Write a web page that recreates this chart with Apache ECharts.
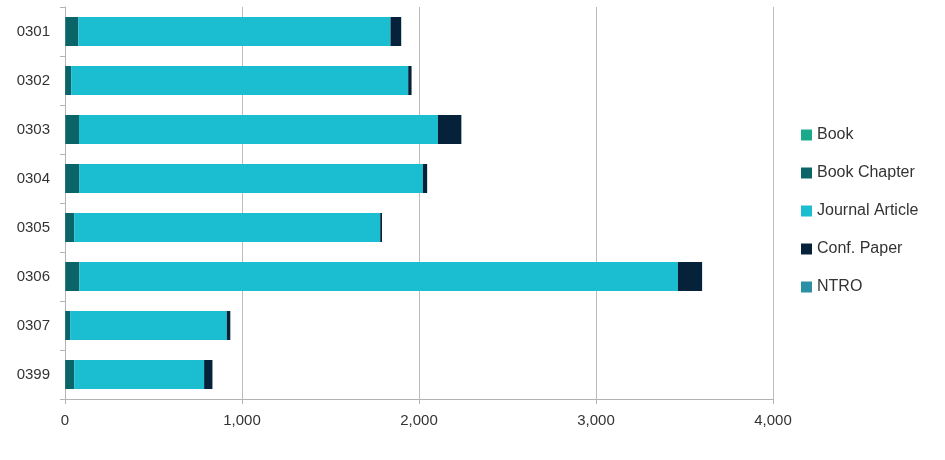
<!DOCTYPE html>
<html>
<head>
<meta charset="utf-8">
<script src="https://cdn.jsdelivr.net/npm/echarts@6/dist/echarts.min.js"></script>
<style>html,body{margin:0;padding:0;background:#fff}#c{width:945px;height:460px}</style>
</head>
<body>
<div id="c"></div>
<script>
const categories = ['0301','0302','0303','0304','0305','0306','0307','0399'];
const book        = [2, 1, 2, 1, 1, 2, 1, 1];
const bookChapter = [73, 34, 77, 79, 51, 79, 28, 51];
const journal     = [1764, 1904, 2028, 1942, 1729, 3382, 885, 734];
const confPaper   = [60, 19, 132, 24, 10, 136, 20, 47];
const ntro        = [1, 0, 1, 0, 0, 1, 0, 0];
const xTicks = [0, 1000, 2000, 3000, 4000];

const seriesDefs = [
  {name:'Book', data:book, color:'#1ba98c'},
  {name:'Book Chapter', data:bookChapter, color:'#0b6468'},
  {name:'Journal Article', data:journal, color:'#1bbdd0'},
  {name:'Conf. Paper', data:confPaper, color:'#06223a'},
  {name:'NTRO', data:ntro, color:'#2d8fa3'}
];

const chart = echarts.init(document.getElementById('c'));
chart.setOption({
  animation:false,
  textStyle:{fontFamily:'Liberation Sans, Arial, sans-serif'},
  grid:{left:65, right:172, top:7, bottom:61, containLabel:false},
  legend:{
    orient:'vertical', left:801, top:127, padding:0,
    itemWidth:11, itemHeight:11, itemGap:22, icon:'rect',
    textStyle:{fontSize:16, color:'#333', fontFamily:'Liberation Sans, Arial, sans-serif'},
    data:seriesDefs.map(s=>s.name)
  },
  xAxis:{
    type:'value', min:xTicks[0], max:xTicks[xTicks.length-1], interval:1000,
    axisLine:{show:true, lineStyle:{color:'#b3b3b3'}},
    axisTick:{show:true, length:5, lineStyle:{color:'#b3b3b3'}},
    splitLine:{show:true, lineStyle:{color:'#bdbdbd', width:1}},
    axisLabel:{fontSize:15, color:'#333', margin:14,
      formatter:v=>v.toLocaleString('en-US')}
  },
  yAxis:{
    type:'category', data:categories, inverse:true,
    axisLine:{show:true, lineStyle:{color:'#b3b3b3'}},
    axisTick:{show:true, length:5, lineStyle:{color:'#b3b3b3'}},
    axisLabel:{fontSize:15, color:'#333', margin:15}
  },
  series:seriesDefs.map(s=>({
    name:s.name, type:'bar', stack:'total', data:s.data,
    barWidth:29, itemStyle:{color:s.color}
  }))
});
</script>
</body>
</html>
